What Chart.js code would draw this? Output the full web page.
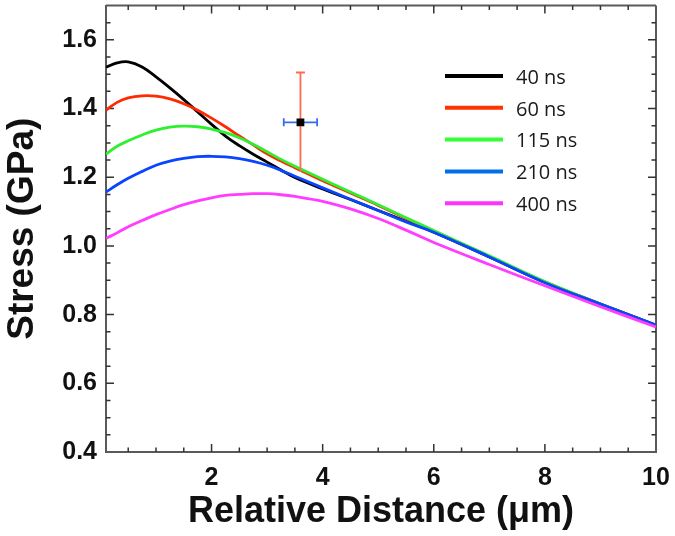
<!DOCTYPE html>
<html>
<head>
<meta charset="utf-8">
<script src="https://cdn.jsdelivr.net/npm/chart.js@4.4.1/dist/chart.umd.min.js"></script>
<style>
  html, body { margin: 0; padding: 0; background: #ffffff; }
  #wrap { width: 675px; height: 536px; position: relative; }
</style>
</head>
<body>
<div id="wrap"><canvas id="c" width="675" height="536"></canvas></div>
<script>
// ---- data ----
const distance  = [0.1, 0.3, 0.5, 0.75, 1.0, 1.25, 1.5, 1.75, 2.0, 2.25, 2.5, 2.75, 3.0, 3.25, 3.5, 4.0, 4.5, 5.0, 5.5, 6.0, 7.0, 8.0, 9.0, 10.0];
const stress40  = [1.520, 1.533, 1.536, 1.521, 1.492, 1.460, 1.426, 1.390, 1.354, 1.320, 1.292, 1.267, 1.244, 1.221, 1.199, 1.166, 1.135, 1.103, 1.072, 1.040, 0.968, 0.894, 0.831, 0.769];
const stress60  = [1.395, 1.418, 1.431, 1.437, 1.436, 1.428, 1.414, 1.395, 1.372, 1.347, 1.320, 1.294, 1.268, 1.247, 1.228, 1.190, 1.154, 1.118, 1.080, 1.043, 0.969, 0.895, 0.831, 0.769];
const stress115 = [1.267, 1.290, 1.306, 1.323, 1.337, 1.346, 1.349, 1.347, 1.340, 1.330, 1.315, 1.296, 1.274, 1.252, 1.232, 1.194, 1.157, 1.120, 1.082, 1.045, 0.971, 0.896, 0.831, 0.769];
const stress210 = [1.157, 1.178, 1.197, 1.217, 1.235, 1.247, 1.255, 1.260, 1.261, 1.259, 1.254, 1.246, 1.235, 1.220, 1.203, 1.169, 1.136, 1.103, 1.070, 1.040, 0.968, 0.893, 0.831, 0.770];
const stress400 = [1.022, 1.038, 1.056, 1.074, 1.091, 1.106, 1.120, 1.131, 1.140, 1.147, 1.150, 1.152, 1.152, 1.149, 1.144, 1.130, 1.108, 1.080, 1.046, 1.010, 0.946, 0.884, 0.823, 0.764];
const seriesLabels = ['40 ns', '60 ns', '115 ns', '210 ns', '400 ns'];
const seriesColors = ['#000000', '#ff2a00', '#2ef02e', '#0a44ff', '#ff3cff'];
const legendColors = ['#000000', '#ff3300', '#33ff33', '#0070e8', '#ff33ff'];
const xTicks = [2, 4, 6, 8, 10];
const yTicks = [0.4, 0.6, 0.8, 1.0, 1.2, 1.4, 1.6];
const xRange = [0.1, 10];
const yRange = [0.4, 1.7];
const xMinorStep = 0.5;
const yMinorStep = 0.05;
const measX = [3.6];
const measY = [1.36];
const measXErr = [0.3];
const measYErr = [0.145];

// ---- build datasets ----
const curves = [stress40, stress60, stress115, stress210, stress400];
const datasets = curves.map((arr, i) => ({
  label: seriesLabels[i],
  data: distance.map((x, j) => ({ x: x, y: arr[j] })),
  borderColor: seriesColors[i],
  backgroundColor: seriesColors[i],
  borderWidth: 2.8,
  pointRadius: 0,
  tension: 0.4,
  fill: false,
  order: curves.length - i
}));
const MEAS_INDEX = datasets.length;
datasets.push({
  label: 'measured',
  data: measX.map((x, j) => ({ x: x, y: measY[j] })),
  showLine: false,
  pointStyle: 'rect',
  pointRadius: 5.5,
  pointHoverRadius: 5.5,
  backgroundColor: '#000000',
  borderColor: '#000000',
  borderWidth: 0,
  order: 0
});

// ---- plugins ----
const framePlugin = {
  id: 'frame',
  beforeDatasetsDraw(chart) {
    const { ctx, chartArea: a, scales: { x, y } } = chart;
    ctx.save();
    ctx.strokeStyle = '#5a5a5a';
    ctx.lineWidth = 2;
    ctx.beginPath();
    ctx.moveTo(a.left, a.top); ctx.lineTo(a.right, a.top);
    ctx.moveTo(a.right, a.top); ctx.lineTo(a.right, a.bottom);
    ctx.stroke();
    ctx.strokeStyle = '#333333';
    ctx.lineWidth = 1.5;
    ctx.beginPath();
    const nx = Math.round((xRange[1] - 0) / xMinorStep);
    for (let k = 1; k <= nx; k++) {
      const v = k * xMinorStep;
      if (v <= xRange[0] || v >= xRange[1]) continue;
      const major = xTicks.some(t => Math.abs(t - v) < 1e-9);
      const len = major ? 8 : 4.5;
      const px = x.getPixelForValue(v);
      ctx.moveTo(px, a.bottom); ctx.lineTo(px, a.bottom - len);
      ctx.moveTo(px, a.top); ctx.lineTo(px, a.top + len);
    }
    const ny = Math.round((yRange[1] - yRange[0]) / yMinorStep);
    for (let k = 1; k < ny; k++) {
      const v = yRange[0] + k * yMinorStep;
      const major = yTicks.some(t => Math.abs(t - v) < 1e-9);
      const len = major ? 8 : 4.5;
      const py = y.getPixelForValue(v);
      ctx.moveTo(a.left, py); ctx.lineTo(a.left + len, py);
      ctx.moveTo(a.right, py); ctx.lineTo(a.right - len, py);
    }
    ctx.stroke();
    ctx.restore();
  },
  beforeDatasetDraw(chart, args) {
    if (args.index !== MEAS_INDEX) return;
    const { ctx, scales: { x, y } } = chart;
    ctx.save();
    for (let j = 0; j < measX.length; j++) {
      const cx = x.getPixelForValue(measX[j]);
      const cy = y.getPixelForValue(measY[j]);
      const yt = y.getPixelForValue(measY[j] + measYErr[j]);
      const yb = y.getPixelForValue(measY[j] - measYErr[j]);
      const xl = x.getPixelForValue(measX[j] - measXErr[j]);
      const xr = x.getPixelForValue(measX[j] + measXErr[j]);
      ctx.strokeStyle = '#ff6a50';
      ctx.lineWidth = 1.8;
      ctx.beginPath();
      ctx.moveTo(cx, yt); ctx.lineTo(cx, yb);
      ctx.moveTo(cx - 4.5, yt); ctx.lineTo(cx + 4.5, yt);
      ctx.stroke();
      ctx.strokeStyle = '#3a6cf0';
      ctx.beginPath();
      ctx.moveTo(xl, cy); ctx.lineTo(xr, cy);
      ctx.moveTo(xl, cy - 4); ctx.lineTo(xl, cy + 4);
      ctx.moveTo(xr, cy - 4); ctx.lineTo(xr, cy + 4);
      ctx.stroke();
    }
    ctx.restore();
  },
  afterDraw(chart) {
    const { ctx } = chart;
    ctx.save();
    ctx.font = '20px "Open Sans"';
    ctx.textBaseline = 'middle';
    ctx.textAlign = 'left';
    for (let i = 0; i < seriesLabels.length; i++) {
      const yy = 76 + i * 31.8;
      ctx.strokeStyle = legendColors[i];
      ctx.lineWidth = 4;
      ctx.beginPath();
      ctx.moveTo(445, yy); ctx.lineTo(503, yy);
      ctx.stroke();
      ctx.fillStyle = '#1a1a1a';
      ctx.fillText(seriesLabels[i], 516, yy + 2);
    }
    ctx.restore();
  }
};

const tickFont = { family: '"Liberation Sans", Arial, sans-serif', size: 25, weight: 'bold' };
const xTitleFont = { family: '"Liberation Sans", Arial, sans-serif', size: 36, weight: 'bold' };
const yTitleFont = { family: '"Liberation Sans", Arial, sans-serif', size: 37, weight: 'bold' };

new Chart(document.getElementById('c'), {
  type: 'line',
  data: { datasets: datasets },
  options: {
    responsive: false,
    animation: false,
    devicePixelRatio: 1,
    layout: { padding: { top: 4, right: 19, left: 0, bottom: 0 } },
    plugins: { legend: { display: false }, tooltip: { enabled: false } },
    scales: {
      x: {
        type: 'linear',
        position: 'bottom',
        min: xRange[0], max: xRange[1],
        afterBuildTicks(s) { s.ticks = xTicks.map(v => ({ value: v })); },
        afterFit(s) { s.height = 84; s.paddingLeft = 0; s.paddingRight = 0; },
        grid: { display: false, drawTicks: false },
        border: { display: true, color: '#5a5a5a', width: 2 },
        ticks: { font: tickFont, color: '#111111', padding: 11, autoSkip: false, maxRotation: 0,
                 callback: v => String(v) },
        title: { display: true, text: 'Relative Distance (\u03bcm)', font: xTitleFont, color: '#111111',
                 padding: { top: 0, bottom: 2 } }
      },
      y: {
        type: 'linear',
        min: yRange[0], max: yRange[1],
        afterBuildTicks(s) { s.ticks = yTicks.map(v => ({ value: v })); },
        afterFit(s) { s.width = 106; s.paddingTop = 0; s.paddingBottom = 0; },
        grid: { display: false, drawTicks: false },
        border: { display: true, color: '#5a5a5a', width: 2 },
        ticks: { font: tickFont, color: '#111111', padding: 9, autoSkip: false,
                 callback: v => Number(v).toFixed(1) },
        title: { display: true, text: 'Stress (GPa)', font: yTitleFont, color: '#111111',
                 padding: { top: 1, bottom: 0 } }
      }
    }
  },
  plugins: [framePlugin]
});
</script>
</body>
</html>
